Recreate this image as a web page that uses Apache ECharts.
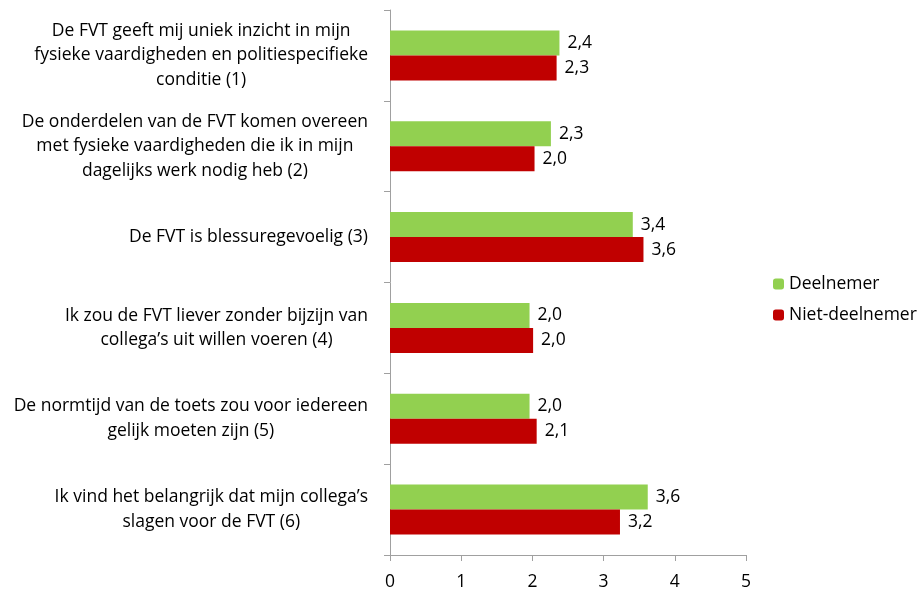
<!DOCTYPE html>
<html>
<head>
<meta charset="utf-8">
<script src="https://cdn.jsdelivr.net/npm/echarts@6/dist/echarts.min.js"></script>
<style>html,body{margin:0;padding:0;background:#fff}#c{width:924px;height:591px}</style>
</head>
<body>
<div id="c"></div>
<script>
var categories = [
  "De FVT geeft mij uniek inzicht in mijn\nfysieke vaardigheden en politiespecifieke\nconditie (1)",
  "De onderdelen van de FVT komen overeen\nmet fysieke vaardigheden die ik in mijn\ndagelijks werk nodig heb (2)",
  "De FVT is blessuregevoelig (3)",
  "Ik zou de FVT liever zonder bijzijn van\ncollega\u2019s uit willen voeren (4)",
  "De normtijd van de toets zou voor iedereen\ngelijk moeten zijn (5)",
  "Ik vind het belangrijk dat mijn collega\u2019s\nslagen voor de FVT (6)"
];
var deelnemer = [2.38, 2.26, 3.41, 1.96, 1.96, 3.62];
var nietDeelnemer = [2.34, 2.03, 3.56, 2.01, 2.06, 3.23];
var xTicks = [0, 1, 2, 3, 4, 5];

var FONT = 'Open Sans';
var FS = 17.5;
var AXIS_COLOR = '#a0a0a0';
var chart = echarts.init(document.getElementById('c'), null, {renderer: 'canvas'});
function fmt(p) { return p.value.toFixed(1).replace('.', ','); }
chart.setOption({
  animation: false,
  textStyle: {fontFamily: FONT},
  grid: {left: 390, right: 178, top: 10, bottom: 35, containLabel: false},
  legend: {
    orient: 'vertical', left: 773, top: 275,
    itemWidth: 11, itemHeight: 11, itemGap: 13, padding: 0,
    textStyle: {fontFamily: FONT, fontSize: FS, color: '#000'},
    data: ['Deelnemer', 'Niet-deelnemer']
  },
  xAxis: {
    type: 'value', min: xTicks[0], max: xTicks[xTicks.length - 1], interval: 1,
    axisLine: {show: true, lineStyle: {color: AXIS_COLOR}},
    axisTick: {show: true, length: 6, lineStyle: {color: AXIS_COLOR}},
    splitLine: {show: false},
    axisLabel: {fontFamily: FONT, fontSize: FS, color: '#000', margin: 18}
  },
  yAxis: {
    type: 'category', inverse: true, data: categories,
    axisLine: {show: true, lineStyle: {color: AXIS_COLOR}},
    axisTick: {show: true, length: 6, lineStyle: {color: AXIS_COLOR}},
    axisLabel: {
      fontFamily: FONT, fontSize: FS, color: '#000', margin: 22,
      formatter: function (v) {
        return v.split('\n').map(function (l) { return '{c|' + l + '}'; }).join('\n');
      },
      rich: {c: {align: 'center', fontFamily: FONT, fontSize: FS, color: '#000', lineHeight: 24.5}}
    }
  },
  series: [
    {name: 'Deelnemer', type: 'bar', data: deelnemer, barWidth: 25, barGap: '0%',
     itemStyle: {color: '#92D050'},
     label: {show: true, position: 'right', distance: 8, fontFamily: FONT, fontSize: FS, color: '#000', formatter: fmt}},
    {name: 'Niet-deelnemer', type: 'bar', data: nietDeelnemer, barWidth: 25, barGap: '0%',
     itemStyle: {color: '#C00000'},
     label: {show: true, position: 'right', distance: 8, fontFamily: FONT, fontSize: FS, color: '#000', formatter: fmt}}
  ]
});
</script>
</body>
</html>
